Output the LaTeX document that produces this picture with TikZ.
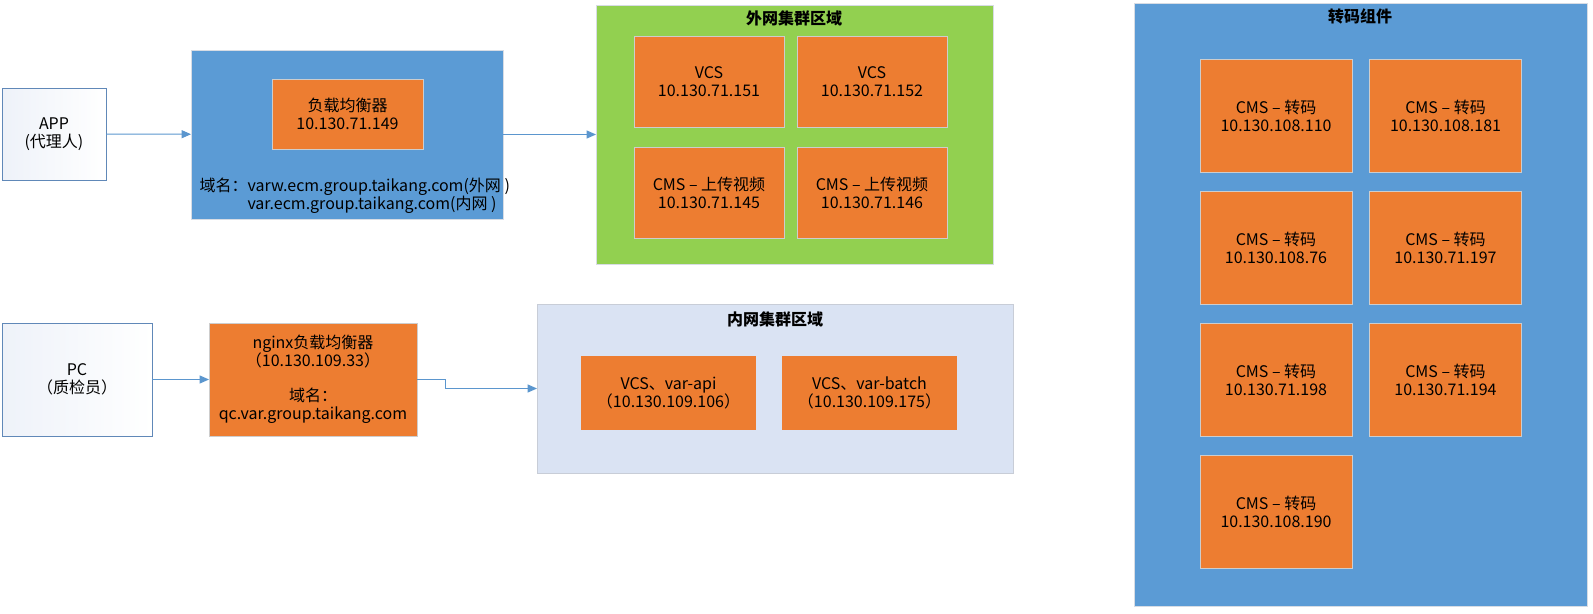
\documentclass[tikz,border=0pt]{standalone}
\usepackage{fontspec}
\setmainfont{Noto Sans CJK SC}
\usetikzlibrary{arrows.meta}

\definecolor{srvorange}{RGB}{237,125,49}
\definecolor{zoneblue}{RGB}{91,155,213}
\definecolor{zonegreen}{RGB}{146,208,80}
\definecolor{zonegrey}{RGB}{218,227,243}
\definecolor{linkblue}{RGB}{91,150,206}
\definecolor{clientedge}{RGB}{96,136,184}
\definecolor{clientfill}{RGB}{238,242,249}

\newcommand{\boxfont}{\fontsize{12}{13.5}\selectfont}

\tikzset{every picture/.style={line width=0.75pt}}
\tikzset{
  zonebox/.style={draw={rgb,255:red,215;green,220;blue,228}, inner sep=0pt, outer sep=0pt},
  srvbox/.style={draw={rgb,255:red,205;green,205;blue,205}, fill=srvorange, inner sep=0pt, outer sep=0pt, align=center, font=\boxfont},
  clientbox/.style={draw=clientedge, left color=clientfill, right color=white, inner sep=0pt, outer sep=0pt, align=center, font=\boxfont, minimum height=84.75pt},
  zonetitle/.style={inner sep=0pt, font=\boxfont\bfseries},
  link/.style={draw=linkblue, -{Triangle[length=7pt,width=6pt]}},
}

\begin{document}
\begin{tikzpicture}[x=0.75pt,y=0.75pt,yscale=-1,xscale=1]
\useasboundingbox (0,0) rectangle (1593,614);

%Shape: Rectangle [client APP]
\node [clientbox, minimum width=78pt, minimum height=69pt] (app) at (54,134) {APP\\(代理人)};
%Shape: Rectangle [lb zone]
\node [zonebox, fill=zoneblue, minimum width=234pt, minimum height=126.75pt] (lbzone) at (347,134.5) {};
\node [srvbox, minimum width=113.25pt, minimum height=52.5pt] (lb) at (347.5,114) {负载均衡器\\10.130.71.149};
% Text Node
\node [anchor=west, inner sep=0pt, align=left, font=\boxfont] (lbdomain) at (199,196) {域名：varw.ecm.group.taikang.com(外网 )\\\phantom{域名：}var.ecm.group.taikang.com(内网 )};

%Shape: Rectangle [outer cluster]
\node [zonebox, fill=zonegreen, minimum width=297.75pt, minimum height=194.25pt] (outer) at (794.5,134.5) {};
\node [zonetitle] (outertitle) at (794,18) {外网集群区域};
\node [srvbox, minimum width=112.5pt, minimum height=68.25pt] (vcsa) at (709,81.5) {VCS\\10.130.71.151};
\node [srvbox, minimum width=112.5pt, minimum height=68.25pt] (vcsb) at (872,81.5) {VCS\\10.130.71.152};
\node [srvbox, minimum width=112.5pt, minimum height=68.25pt] (uploada) at (709,192.5) {CMS – 上传视频\\10.130.71.145};
\node [srvbox, minimum width=112.5pt, minimum height=68.25pt] (uploadb) at (872,192.5) {CMS – 上传视频\\10.130.71.146};

%Shape: Rectangle [client PC]
\node [clientbox, minimum width=112.5pt] (pc) at (77,379.5) {PC\\（质检员）};
\node [srvbox, minimum width=156pt, minimum height=84.75pt] (nginx) at (313,379.5) {nginx负载均衡器\\（10.130.109.33）\\[13pt]域名：\\qc.var.group.taikang.com};

%Shape: Rectangle [inner cluster]
\node [zonebox, fill=zonegrey, draw={rgb,255:red,200;green,205;blue,215}, minimum width=357pt, minimum height=126.75pt] (inner) at (775,388.5) {};
\node [zonetitle] (innertitle) at (775,319) {内网集群区域};
\node [srvbox, draw=none, minimum width=131.25pt, minimum height=55.5pt] (vcsapi) at (668.5,393) {VCS、var-api\\（10.130.109.106）};
\node [srvbox, draw=none, minimum width=131.25pt, minimum height=55.5pt] (vcsbatch) at (869.5,393) {VCS、var-batch\\（10.130.109.175）};

%Shape: Rectangle [transcode]
\node [zonebox, fill=zoneblue, minimum width=339.75pt, minimum height=452.25pt] (trans) at (1360.5,304.5) {};
\node [zonetitle] (transtitle) at (1360,16) {转码组件};
\node [srvbox, minimum width=114pt, minimum height=84.75pt] (cmsa) at (1276,115.5) {CMS – 转码\\10.130.108.110};
\node [srvbox, minimum width=114pt, minimum height=84.75pt] (cmsb) at (1445.5,115.5) {CMS – 转码\\10.130.108.181};
\node [srvbox, minimum width=114pt, minimum height=84.75pt] (cmsc) at (1276,247.5) {CMS – 转码\\10.130.108.76};
\node [srvbox, minimum width=114pt, minimum height=84.75pt] (cmsd) at (1445.5,247.5) {CMS – 转码\\10.130.71.197};
\node [srvbox, minimum width=114pt, minimum height=84.75pt] (cmse) at (1276,379.5) {CMS – 转码\\10.130.71.198};
\node [srvbox, minimum width=114pt, minimum height=84.75pt] (cmsf) at (1445.5,379.5) {CMS – 转码\\10.130.71.194};
\node [srvbox, minimum width=114pt, minimum height=84.75pt] (cmsg) at (1276,511.5) {CMS – 转码\\10.130.108.190};

%Straight Lines
\draw [link] (app) -- (lbzone);
\draw [link] (lbzone) -- (outer);
\draw [link] (pc) -- (nginx);
\draw [link] (nginx.east) -- ++(28,0) |- (inner.west);

\end{tikzpicture}
\end{document}
